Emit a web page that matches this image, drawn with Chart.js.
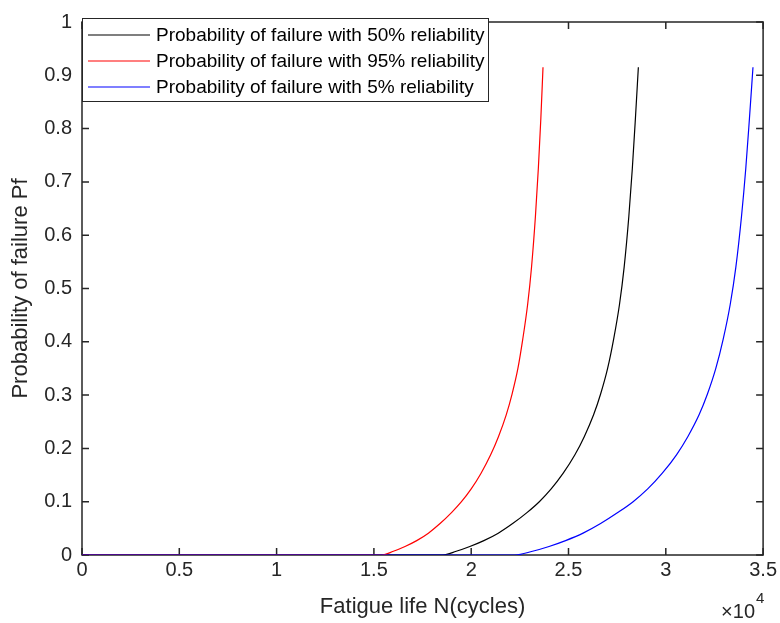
<!DOCTYPE html>
<html>
<head>
<meta charset="utf-8">
<script src="https://cdn.jsdelivr.net/npm/chart.js@4"></script>
<style>
html,body{margin:0;padding:0;background:#fff;}
#wrap{width:780px;height:623px;}
</style>
</head>
<body>
<div id="wrap"><canvas id="c" width="780" height="623"></canvas></div>
<script>
// ---- data ----
const seriesLabels = [
  'Probability of failure with 50% reliability',
  'Probability of failure with 95% reliability',
  'Probability of failure with 5% reliability'
];
const seriesColors = ['#000000', '#ff0000', '#0000ff'];

const pfValues = [0, 0, 0.007, 0.016, 0.027, 0.041, 0.059, 0.080, 0.100, 0.124, 0.153, 0.188, 0.222, 0.263, 0.302, 0.350, 0.405, 0.470, 0.540, 0.635, 0.725, 0.820, 0.915];

const life50 = [0, 18530, 19230, 19930, 20650, 21390, 22130, 22880, 23500, 24110, 24720, 25330, 25810, 26290, 26650, 27010, 27320, 27620, 27860, 28100, 28280, 28440, 28590];
const life95 = [0, 15400, 16000, 16600, 17200, 17800, 18400, 19000, 19500, 20000, 20500, 21000, 21400, 21800, 22100, 22400, 22650, 22900, 23100, 23300, 23450, 23580, 23690];
const life5  = [0, 22250, 23150, 24000, 24850, 25750, 26650, 27550, 28320, 29070, 29810, 30550, 31130, 31710, 32140, 32570, 32950, 33310, 33600, 33890, 34110, 34300, 34480];

const xTickValues = [0, 5000, 10000, 15000, 20000, 25000, 30000, 35000];
const xTickLabels = ['0', '0.5', '1', '1.5', '2', '2.5', '3', '3.5'];
const yTickValues = [0, 0.1, 0.2, 0.3, 0.4, 0.5, 0.6, 0.7, 0.8, 0.9, 1];
const yTickLabels = ['0', '0.1', '0.2', '0.3', '0.4', '0.5', '0.6', '0.7', '0.8', '0.9', '1'];

const xTitle = 'Fatigue life N(cycles)';
const yTitle = 'Probability of failure Pf';
const xMultiplier = '\u00d710';
const xExponent = '4';

// ---- build ----
const FONT = '"Liberation Sans", Arial, Helvetica, sans-serif';
const AXC = '#262626';
const lifeSeries = [life50, life95, life5];
const drawOrder = [2, 1, 0]; // blue on top
const datasets = lifeSeries.map((xs, i) => ({
  label: seriesLabels[i],
  data: xs.map((x, j) => ({x: x, y: pfValues[j]})),
  borderColor: seriesColors[i],
  backgroundColor: seriesColors[i],
  borderWidth: 1.2,
  pointRadius: 0,
  fill: false,
  cubicInterpolationMode: 'monotone',
  order: drawOrder[i]
}));

const framePlugin = {
  id: 'frame',
  beforeDatasetsDraw(chart) {
    const ctx = chart.ctx, a = chart.chartArea;
    const xs = chart.scales.x, ys = chart.scales.y;
    ctx.save();
    ctx.strokeStyle = AXC;
    ctx.lineWidth = 1.5;
    ctx.strokeRect(a.left, a.top, a.right - a.left, a.bottom - a.top);
    const L = 7;
    ctx.beginPath();
    xTickValues.forEach(v => {
      const p = xs.getPixelForValue(v);
      ctx.moveTo(p, a.bottom); ctx.lineTo(p, a.bottom - L);
      ctx.moveTo(p, a.top); ctx.lineTo(p, a.top + L);
    });
    yTickValues.forEach(v => {
      const p = ys.getPixelForValue(v);
      ctx.moveTo(a.left, p); ctx.lineTo(a.left + L, p);
      ctx.moveTo(a.right, p); ctx.lineTo(a.right - L, p);
    });
    ctx.stroke();
    ctx.restore();
  },
  afterDatasetsDraw(chart) {
    const ctx = chart.ctx, a = chart.chartArea;
    ctx.save();
    // legend
    const bx = a.left, by = 18, bw = 406, bh = 83;
    ctx.fillStyle = '#ffffff';
    ctx.fillRect(bx, by, bw, bh);
    ctx.strokeStyle = AXC;
    ctx.lineWidth = 1;
    ctx.strokeRect(bx + 0.5, by + 0.5, bw, bh);
    const rows = [35, 61, 87];
    ctx.font = '19px ' + FONT;
    ctx.textBaseline = 'middle';
    ctx.textAlign = 'left';
    chart.data.datasets.forEach((ds, i) => {
      ctx.strokeStyle = ds.borderColor;
      ctx.lineWidth = 1.2;
      ctx.beginPath();
      ctx.moveTo(88, rows[i]); ctx.lineTo(150, rows[i]);
      ctx.stroke();
      ctx.fillStyle = '#000000';
      ctx.fillText(ds.label, 156, rows[i] + 1);
    });
    // x10^4 multiplier
    ctx.fillStyle = AXC;
    ctx.textBaseline = 'alphabetic';
    ctx.textAlign = 'right';
    ctx.font = '20px ' + FONT;
    ctx.fillText(xMultiplier, 755, 618);
    ctx.textAlign = 'left';
    ctx.font = '15px ' + FONT;
    ctx.fillText(xExponent, 756, 603);
    ctx.restore();
  }
};

new Chart(document.getElementById('c'), {
  type: 'line',
  data: { datasets: datasets },
  options: {
    responsive: false,
    animation: false,
    devicePixelRatio: 1,
    layout: { padding: { left: 0, top: 15, right: 14, bottom: 0 } },
    plugins: { legend: { display: false }, tooltip: { enabled: false } },
    scales: {
      x: {
        type: 'linear',
        min: 0, max: 35000,
        afterBuildTicks: s => { s.ticks = xTickValues.map(v => ({value: v})); },
        afterFit: s => { s.height = 68; },
        grid: { display: false, drawTicks: false },
        border: { display: false },
        ticks: {
          color: AXC,
          font: { family: FONT, size: 20 },
          padding: 3,
          maxRotation: 0,
          autoSkip: false,
          callback: (v, i) => xTickLabels[xTickValues.indexOf(v)]
        },
        title: {
          display: true, text: xTitle, color: AXC,
          font: { family: FONT, size: 22 },
          padding: { top: 0, bottom: 3 }
        }
      },
      y: {
        type: 'linear',
        min: 0, max: 1,
        afterBuildTicks: s => { s.ticks = yTickValues.map(v => ({value: v})); },
        afterFit: s => { s.width = 82; },
        grid: { display: false, drawTicks: false },
        border: { display: false },
        ticks: {
          color: AXC,
          font: { family: FONT, size: 20 },
          padding: 10,
          autoSkip: false,
          callback: (v, i) => yTickLabels[yTickValues.indexOf(v)]
        },
        title: {
          display: true, text: yTitle, color: AXC,
          font: { family: FONT, size: 22 },
          padding: { top: 8, bottom: 0 }
        }
      }
    }
  },
  plugins: [framePlugin]
});
</script>
</body>
</html>
